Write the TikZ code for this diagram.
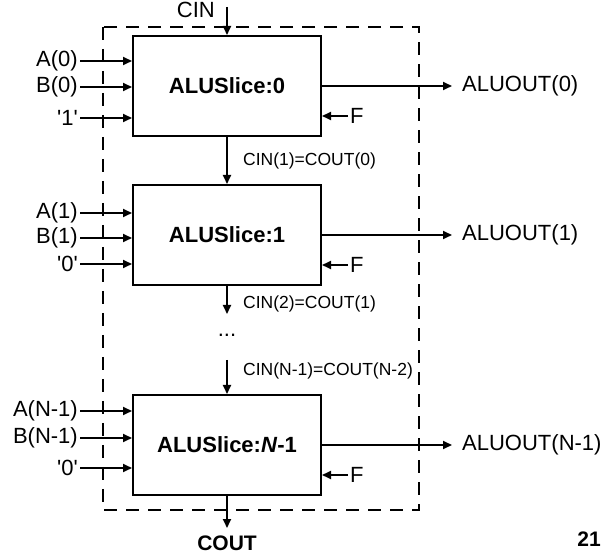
\documentclass[tikz,border=0pt]{standalone}
\usepackage{fontspec}
\setmainfont{Liberation Sans}
\usetikzlibrary{arrows.meta, positioning}
\tikzstyle{slicebox}=[rectangle,draw=black,line width=2pt,
  minimum width=188pt,minimum height=100pt,inner sep=0pt,
  font=\fontsize{22}{26}\selectfont\bfseries]
\tikzstyle{sig}=[font=\fontsize{22}{26}\selectfont,inner sep=2pt]
\tikzstyle{outlbl}=[sig,anchor=west,inner xsep=10pt]
\tikzstyle{carry}=[font=\fontsize{17.5}{20}\selectfont,inner sep=0pt,anchor=west]
\tikzstyle{boldlbl}=[font=\fontsize{21}{25}\selectfont\bfseries]
\tikzstyle{arr}=[-{Triangle[length=9pt,width=8pt]},line width=1.8pt]
\tikzstyle{frame}=[line width=2.2pt,dash pattern=on 13pt off 9pt]
\newcommand{\bitval}[1]{\textquotesingle#1\textquotesingle}

\begin{document}
\begin{tikzpicture}
  \useasboundingbox (0,0) rectangle (602pt,554pt);
  % slices
  \node[slicebox] (b0) at (227pt,468pt) {ALUSlice:0};
  \node[slicebox,below=47pt of b0] (b1) {ALUSlice:1};
  \node[slicebox,below=108pt of b1] (b2) {ALUSlice:\textit{N}-1};
  \draw[frame] ([xshift=-29pt,yshift=8pt]b0.north west) rectangle ([xshift=97pt,yshift=-14pt]b2.south east);
  % carry in
  \node[sig,anchor=east] (cin) at ([xshift=-10pt,yshift=25pt]b0.north) {CIN};
  \coordinate (cintop) at ([yshift=28pt]b0.north);
  \draw[arr] (cintop) -- (b0.north);
  % slice 0
  \node[sig,anchor=east] (a0) at ([xshift=-52pt,yshift=-26pt]b0.north west) {A(0)};
  \node[sig,anchor=east] (bb0) at ([xshift=-52pt,yshift=-52pt]b0.north west) {B(0)};
  \node[sig,anchor=east] (k0) at ([xshift=-52pt,yshift=-83pt]b0.north west) {\bitval{1}};
  \draw[arr] (a0.east) -- (a0.east -| b0.west);
  \draw[arr] (bb0.east) -- (bb0.east -| b0.west);
  \draw[arr] (k0.east) -- (k0.east -| b0.west);
  \node[outlbl] (o0) at ([xshift=130pt]b0.east) {ALUOUT(0)};
  \draw[arr] (b0.east) -- (o0.west);
  \node[sig,anchor=west] (f0) at ([xshift=26pt,yshift=-30pt]b0.east) {F};
  \draw[arr] (f0.west) -- (f0.west -| b0.east);
  \draw[arr] (b0.south) -- (b1.north);
  \node[carry] (c1) at ([xshift=16pt,yshift=-24pt]b0.south) {CIN(1)=COUT(0)};
  % slice 1
  \node[sig,anchor=east] (a1) at ([xshift=-52pt,yshift=-29pt]b1.north west) {A(1)};
  \node[sig,anchor=east] (bb1) at ([xshift=-52pt,yshift=-54pt]b1.north west) {B(1)};
  \node[sig,anchor=east] (k1) at ([xshift=-52pt,yshift=-80pt]b1.north west) {\bitval{0}};
  \draw[arr] (a1.east) -- (a1.east -| b1.west);
  \draw[arr] (bb1.east) -- (bb1.east -| b1.west);
  \draw[arr] (k1.east) -- (k1.east -| b1.west);
  \node[outlbl] (o1) at ([xshift=130pt]b1.east) {ALUOUT(1)};
  \draw[arr] (b1.east) -- (o1.west);
  \node[sig,anchor=west] (f1) at ([xshift=26pt,yshift=-30pt]b1.east) {F};
  \draw[arr] (f1.west) -- (f1.west -| b1.east);
  \coordinate (c2end) at ([yshift=-28pt]b1.south);
  \draw[arr] (b1.south) -- (c2end);
  \node[carry] (c2) at ([xshift=16pt,yshift=-18pt]b1.south) {CIN(2)=COUT(1)};
  \node[sig] (dots) at ([yshift=-49pt]b1.south) {...};
  % slice N-1
  \coordinate (c3start) at ([yshift=34pt]b2.north);
  \draw[arr] (c3start) -- (b2.north);
  \node[carry] (c3) at ([xshift=16pt,yshift=23pt]b2.north) {CIN(N-1)=COUT(N-2)};
  \node[sig,anchor=east] (a2) at ([xshift=-52pt,yshift=-17pt]b2.north west) {A(N-1)};
  \node[sig,anchor=east] (bb2) at ([xshift=-52pt,yshift=-44pt]b2.north west) {B(N-1)};
  \node[sig,anchor=east] (k2) at ([xshift=-52pt,yshift=-74pt]b2.north west) {\bitval{0}};
  \draw[arr] (a2.east) -- (a2.east -| b2.west);
  \draw[arr] (bb2.east) -- (bb2.east -| b2.west);
  \draw[arr] (k2.east) -- (k2.east -| b2.west);
  \node[outlbl] (o2) at ([xshift=130pt]b2.east) {ALUOUT(N-1)};
  \draw[arr] (b2.east) -- (o2.west);
  \node[sig,anchor=west] (f2) at ([xshift=26pt,yshift=-30pt]b2.east) {F};
  \draw[arr] (f2.west) -- (f2.west -| b2.east);
  % carry out
  \node[boldlbl,anchor=north,inner ysep=8pt] (cout) at ([yshift=-32pt]b2.south) {COUT};
  \draw[arr] (b2.south) -- (cout.north);
  \node[boldlbl] (pg) at (589pt,15pt) {21};
\end{tikzpicture}
\end{document}
